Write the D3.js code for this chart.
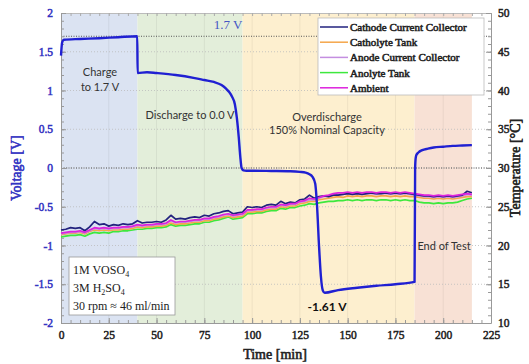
<!DOCTYPE html>
<html><head><meta charset="utf-8">
<script src="https://cdn.jsdelivr.net/npm/d3@7"></script>
<style>body{margin:0;background:#fff}svg{display:block}</style>
</head><body>
<svg id="c" width="529" height="364"></svg>
<script>
// ---------- DATA ----------
const phaseNames = ["Charge", "Discharge", "Overdischarge", "End of Test"];
const phaseStart = [0, 40, 95, 185];
const phaseEnd = [40, 95, 185, 215];
const phaseColors = ["#dbe3f2", "#e3eeda", "#fdefcf", "#f8e1d5"];

const xTicks = [0, 25, 50, 75, 100, 125, 150, 175, 200, 225];
const vTicks = [2, 1.5, 1, 0.5, 0, -0.5, -1, -1.5, -2];
const tTicks = [50, 45, 40, 35, 30, 25, 20, 15, 10];

// Voltage (cell) vs time
const vTime = [0, 0.6, 1.5, 10, 20, 30, 39.9, 40.1, 45, 50, 60, 70, 75, 80, 84, 86.5, 88, 89.5, 91, 92, 93, 93.8, 94.5, 95.5, 97, 100, 110, 120, 125, 128, 130, 131.5, 133, 134, 135, 136, 137, 138, 145, 155, 165, 175, 185, 185.3, 185.6, 186, 187, 189, 192, 195, 200, 205, 210, 215];
const voltage = [1.45, 1.62, 1.655, 1.665, 1.675, 1.688, 1.70, 1.225, 1.235, 1.225, 1.20, 1.16, 1.135, 1.11, 1.07, 1.02, 0.98, 0.92, 0.82, 0.65, 0.40, 0.15, 0.0, -0.03, -0.035, -0.035, -0.038, -0.042, -0.05, -0.06, -0.08, -0.11, -0.2, -0.5, -1.0, -1.4, -1.58, -1.61, -1.575, -1.545, -1.52, -1.50, -1.47, 0.0, 0.13, 0.17, 0.2, 0.23, 0.25, 0.265, 0.275, 0.285, 0.29, 0.295];

// Temperatures (°C), sampled every 2.5 min from 0 to 215
const tempTime = d3.range(0, 215.01, 2.5);
const seriesNames = ["Cathode Current Collector", "Catholyte Tank", "Anode Current Collector", "Anolyte Tank", "Ambient"];
const seriesColors = ["#22227e", "#f5a64a", "#c48ee0", "#3de83d", "#dd22dd"];
const cathodeCC = [22.0,22.1,22.3,22.2,22.3,21.9,22.4,23.1,22.7,22.8,22.5,22.7,22.6,22.8,22.7,22.8,23.2,22.9,23.0,23.0,23.1,23.0,23.3,23.9,23.4,23.5,23.4,23.6,23.7,23.6,23.9,23.8,24.1,24.2,24.4,24.5,24.1,24.2,24.3,25.0,24.9,25.0,24.9,25.2,25.3,25.2,25.7,25.4,25.6,25.5,25.9,26.0,26.5,26.1,26.3,26.4,26.3,26.5,26.5,26.6,26.7,26.6,26.7,26.6,26.7,26.8,26.7,26.7,26.8,26.7,26.8,26.7,26.8,26.7,26.6,26.5,26.4,26.4,26.3,26.4,26.3,26.4,26.3,26.4,26.5,27.0,26.8];
const catholyteTank = [21.4,21.5,21.6,21.6,21.7,21.5,21.8,22.0,21.9,22.0,21.9,22.0,22.0,22.1,22.1,22.2,22.4,22.3,22.4,22.4,22.5,22.5,22.6,22.9,22.7,22.8,22.8,22.9,23.0,23.0,23.2,23.2,23.4,23.5,23.7,23.8,23.6,23.7,23.8,24.3,24.3,24.4,24.4,24.6,24.7,24.7,25.0,24.9,25.1,25.1,25.4,25.5,25.7,25.7,25.9,26.0,26.1,26.2,26.3,26.2,26.4,26.3,26.4,26.3,26.4,26.4,26.3,26.4,26.4,26.3,26.4,26.3,26.4,26.3,26.3,26.2,26.1,26.1,26.0,26.1,26.0,26.1,26.0,26.1,26.2,26.3,26.3];
const anodeCC = [21.5,21.6,21.7,21.7,21.8,21.6,21.9,22.2,22.1,22.2,22.1,22.2,22.2,22.3,22.3,22.4,22.6,22.5,22.6,22.6,22.7,22.7,22.8,23.2,22.9,23.0,23.0,23.1,23.2,23.2,23.4,23.4,23.6,23.7,23.9,24.0,23.8,23.9,24.0,24.5,24.5,24.6,24.6,24.8,24.9,24.9,25.2,25.1,25.3,25.3,25.6,25.7,25.9,25.9,26.1,26.3,26.4,26.5,26.6,26.6,26.7,26.6,26.7,26.6,26.7,26.7,26.6,26.7,26.7,26.6,26.7,26.6,26.7,26.6,26.5,26.4,26.3,26.3,26.2,26.3,26.2,26.3,26.2,26.3,26.4,26.6,26.5];
const anolyteTank = [21.1,21.2,21.3,21.3,21.4,21.2,21.5,21.7,21.6,21.7,21.6,21.8,21.8,21.9,21.9,22.0,22.1,22.1,22.2,22.2,22.3,22.3,22.4,22.7,22.5,22.6,22.6,22.7,22.8,22.8,23.0,23.0,23.2,23.3,23.5,23.7,23.4,23.5,23.6,24.1,24.1,24.2,24.2,24.4,24.5,24.5,24.8,24.7,24.9,24.9,25.1,25.2,25.4,25.3,25.5,25.6,25.7,25.7,25.8,25.8,25.9,25.8,25.9,25.8,25.9,25.9,25.8,25.9,25.9,25.8,25.9,25.8,25.9,25.8,25.8,25.6,25.5,25.5,25.4,25.5,25.4,25.5,25.5,25.6,25.8,26.0,26.1];
const ambient = [21.6,21.7,21.8,21.8,21.9,21.7,22.0,22.3,22.2,22.3,22.2,22.3,22.3,22.4,22.4,22.5,22.7,22.6,22.7,22.7,22.8,22.8,22.9,23.3,23.0,23.1,23.1,23.2,23.3,23.3,23.5,23.5,23.7,23.8,24.0,24.1,23.9,24.0,24.1,24.6,24.6,24.7,24.7,24.9,25.0,25.0,25.3,25.2,25.4,25.4,25.7,25.8,26.1,26.0,26.2,26.4,26.5,26.7,26.8,26.8,26.9,26.8,26.9,26.8,26.9,26.9,26.8,26.9,26.9,26.8,26.9,26.8,26.9,26.8,26.7,26.6,26.5,26.5,26.4,26.5,26.4,26.5,26.4,26.5,26.6,26.7,26.6];
const tempSeries = [cathodeCC, catholyteTank, anodeCC, anolyteTank, ambient];

// ---------- CHART ----------
const W = 529, H = 364;
const m = {l: 61, r: 38, t: 13, b: 41};
const svg = d3.select("#c");
const x = d3.scaleLinear().domain([0, 225]).range([m.l, W - m.r]);
const yV = d3.scaleLinear().domain([-2, 2]).range([H - m.b, m.t]);
const yT = d3.scaleLinear().domain([10, 50]).range([H - m.b, m.t]);
const serif = "Liberation Serif";
const sans = "Lato, 'Open Sans', sans-serif";
const blue = "#3333c2";

// serif "bold" (regular face thickened with a stroke of the same colour)
function bold(sel, color, size, sw) {
  sel.attr("font-family", serif).attr("font-weight", "normal").attr("font-size", size)
    .attr("fill", color).attr("stroke", color).attr("stroke-width", sw || 0.55);
  return sel;
}

// phase backgrounds
svg.append("g").selectAll("rect").data(phaseNames).join("rect")
  .attr("x", (d, i) => x(phaseStart[i]))
  .attr("width", (d, i) => x(phaseEnd[i]) - x(phaseStart[i]))
  .attr("y", m.t).attr("height", H - m.b - m.t)
  .attr("fill", (d, i) => phaseColors[i]);

// vertical grid
svg.append("g").selectAll("line").data(xTicks.slice(1, -1)).join("line")
  .attr("x1", d => x(d)).attr("x2", d => x(d))
  .attr("y1", m.t).attr("y2", H - m.b)
  .attr("stroke", "#000").attr("stroke-opacity", 0.06);
// horizontal grid (dotted)
svg.append("g").selectAll("line").data(vTicks.slice(1, -1)).join("line")
  .attr("x1", m.l).attr("x2", W - m.r)
  .attr("y1", d => yV(d)).attr("y2", d => yV(d))
  .attr("stroke", "#bbb").attr("stroke-dasharray", "1,2").attr("stroke-width", 0.8);
// 1.7 V and 0 V reference lines
svg.append("g").selectAll("line").data([1.7, 0]).join("line")
  .attr("x1", m.l).attr("x2", W - m.r)
  .attr("y1", d => yV(d)).attr("y2", d => yV(d))
  .attr("stroke", "#555").attr("stroke-dasharray", "1,1.5").attr("stroke-width", 1);

// axes
const axisColor = "#999";
function styleAxis(g, color) {
  g.select(".domain").attr("stroke", axisColor);
  g.selectAll(".tick line").attr("stroke", axisColor);
  bold(g.selectAll(".tick text"), color, 11.5, 0.5);
}
const xMinor = d3.range(0, 225.1, 5);
const vMinor = d3.range(-2, 2.001, 0.1);
const tMinor = d3.range(10, 50.1, 1);
// minor ticks
svg.append("g").attr("transform", `translate(0,${H - m.b})`)
  .call(d3.axisBottom(x).tickValues(xMinor).tickSize(-3).tickFormat(""))
  .call(g => { g.select(".domain").remove(); g.selectAll("line").attr("stroke", axisColor); });
svg.append("g").attr("transform", `translate(0,${m.t})`)
  .call(d3.axisTop(x).tickValues(xMinor).tickSize(-3).tickFormat(""))
  .call(g => { g.select(".domain").attr("stroke", "#bbb"); g.selectAll("line").attr("stroke", "#aaa"); });
svg.append("g").attr("transform", `translate(${m.l},0)`)
  .call(d3.axisLeft(yV).tickValues(vMinor).tickSize(-3).tickFormat(""))
  .call(g => { g.select(".domain").remove(); g.selectAll("line").attr("stroke", axisColor); });
svg.append("g").attr("transform", `translate(${W - m.r},0)`)
  .call(d3.axisRight(yT).tickValues(tMinor).tickSize(-3).tickFormat(""))
  .call(g => { g.select(".domain").remove(); g.selectAll("line").attr("stroke", axisColor); });
// major
svg.append("g").attr("transform", `translate(0,${H - m.b})`)
  .call(d3.axisBottom(x).tickValues(xTicks).tickSize(-5).tickPadding(8).tickSizeOuter(0))
  .call(g => styleAxis(g, "#222"));
svg.append("g").attr("transform", `translate(${m.l},0)`)
  .call(d3.axisLeft(yV).tickValues(vTicks).tickSize(-5).tickPadding(8).tickSizeOuter(0)
    .tickFormat(d => String(d)))
  .call(g => styleAxis(g, blue));
svg.append("g").attr("transform", `translate(${W - m.r},0)`)
  .call(d3.axisRight(yT).tickValues(tTicks).tickSize(-5).tickPadding(7).tickSizeOuter(0))
  .call(g => styleAxis(g, "#222"));

// temperature lines
const tLine = d3.line().x((d, i) => x(tempTime[i])).y(d => yT(d));
const order = [3, 1, 2, 0, 4];
svg.append("g").selectAll("path").data(order).join("path")
  .attr("d", k => tLine(tempSeries[k]))
  .attr("fill", "none").attr("stroke", k => seriesColors[k])
  .attr("stroke-width", 1.7).attr("stroke-linejoin", "round");

// voltage line
const vLine = d3.line().x((d, i) => x(vTime[i])).y(d => yV(d)).curve(d3.curveMonotoneX);
svg.append("path").attr("d", vLine(voltage))
  .attr("fill", "none").attr("stroke", "#2020d2").attr("stroke-width", 2.4)
  .attr("stroke-linejoin", "round");

// annotations
const ann = svg.append("g").attr("font-family", sans).attr("font-size", 11)
  .attr("fill", "#333").attr("text-anchor", "middle");
ann.append("text").attr("x", 100).attr("y", 76).text("Charge");
ann.append("text").attr("x", 100).attr("y", 91).text("to 1.7 V");
ann.append("text").attr("x", 190).attr("y", 119).text("Discharge to 0.0 V");
ann.append("text").attr("x", 327).attr("y", 121).text("Overdischarge");
ann.append("text").attr("x", 327).attr("y", 134).text("150% Nominal Capacity");
ann.append("text").attr("x", 444).attr("y", 250).text("End of Test");
ann.append("text").attr("x", 327).attr("y", 311).attr("font-weight", "bold")
  .attr("font-size", 12).attr("fill", "#111").text("-1.61 V");
svg.append("text").attr("x", 228).attr("y", 29).attr("text-anchor", "middle")
  .attr("font-family", serif).attr("font-size", 13).attr("fill", "#4455c4").text("1.7 V");

// legend
const lg = svg.append("g");
lg.append("rect").attr("x", 318).attr("y", 18).attr("width", 166).attr("height", 77)
  .attr("fill", "#fff").attr("stroke", "#bbb").attr("stroke-width", 0.8);
const rows = lg.selectAll("g.row").data(seriesNames).join("g")
  .attr("transform", (d, i) => `translate(0,${27 + i * 15.2})`);
rows.append("line").attr("x1", 320).attr("x2", 348).attr("y1", 0).attr("y2", 0)
  .attr("stroke", (d, i) => seriesColors[i]).attr("stroke-width", 1.5);
bold(rows.append("text").attr("x", 350).attr("y", 4).text(d => d), "#222", 11, 0.55);

// info box
const ib = svg.append("g").attr("font-family", serif).attr("font-size", 12).attr("fill", "#222");
ib.append("rect").attr("x", 69).attr("y", 257).attr("width", 106).attr("height", 58)
  .attr("fill", "#fff").attr("stroke", "#999").attr("stroke-width", 0.8);
const t1 = ib.append("text").attr("x", 73).attr("y", 274);
t1.append("tspan").text("1M VOSO");
t1.append("tspan").attr("font-size", 8).attr("dy", 3).text("4");
const t2 = ib.append("text").attr("x", 73).attr("y", 292);
t2.append("tspan").text("3M H");
t2.append("tspan").attr("font-size", 8).attr("dy", 3).text("2");
t2.append("tspan").attr("dy", -3).text("SO");
t2.append("tspan").attr("font-size", 8).attr("dy", 3).text("4");
ib.append("text").attr("x", 73).attr("y", 310).text("30 rpm \u2248 46 ml/min");

// axis titles
bold(svg.append("text").attr("transform", `translate(21,${yV(0)}) rotate(-90)`)
  .attr("text-anchor", "middle").text("Voltage [V]"), blue, 14, 0.6);
bold(svg.append("text").attr("transform", `translate(520,${yV(0)}) rotate(-90)`)
  .attr("text-anchor", "middle").text("Temperature [\u00B0C]"), "#222", 14, 0.6);
bold(svg.append("text").attr("x", 275).attr("y", 359)
  .attr("text-anchor", "middle").text("Time [min]"), "#222", 14, 0.6);
</script>
</body></html>
